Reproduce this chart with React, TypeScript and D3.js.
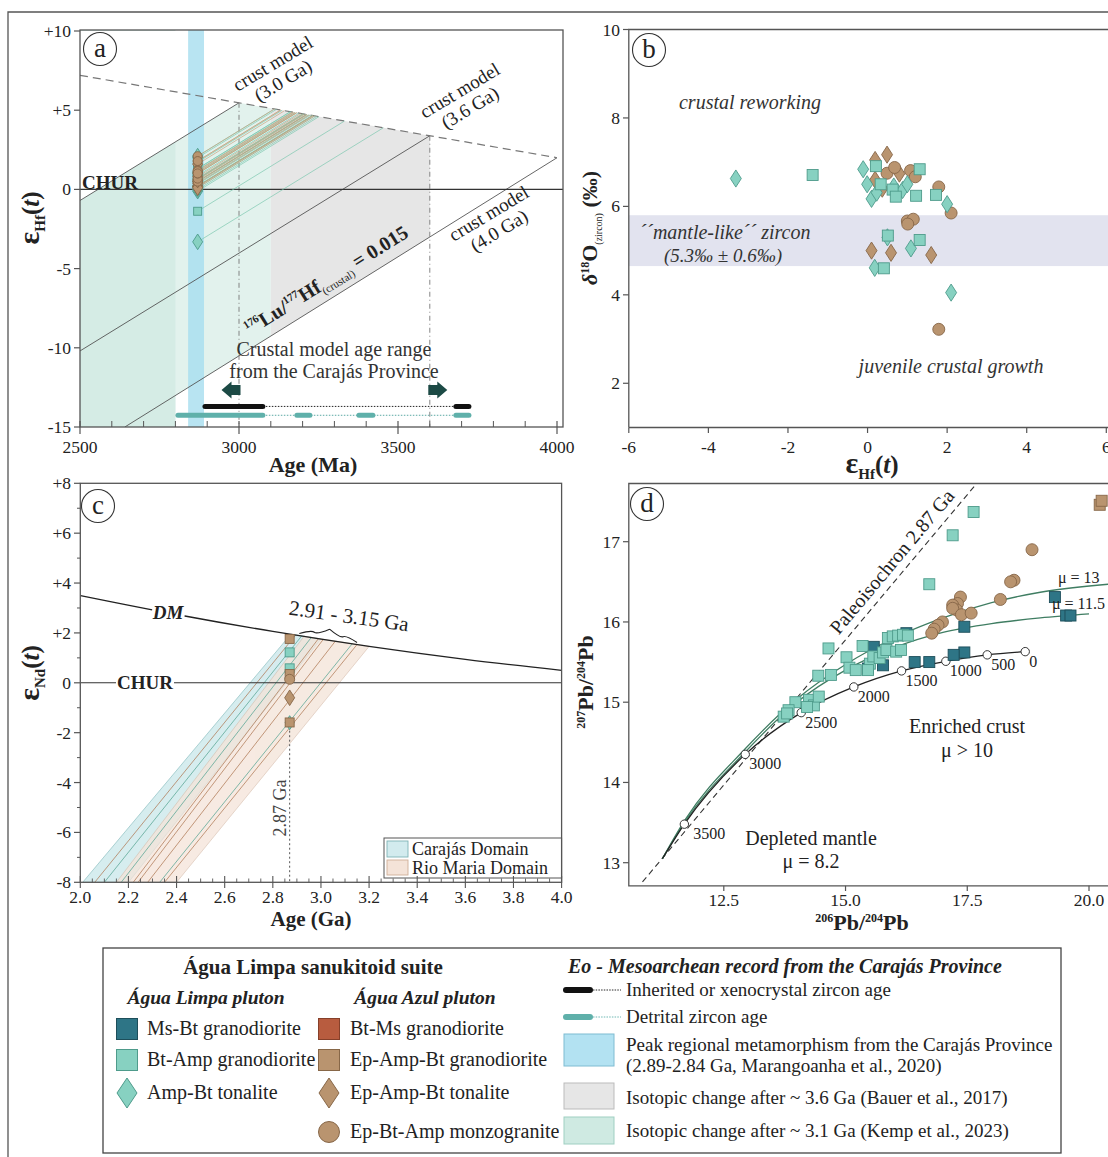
import React from 'react';
import * as d3 from 'd3';

const FONT = '"Liberation Serif", "Times New Roman", Times, serif';
const INK = '#222';
const FRAME = '#555';

// ---------------- lithologies (legend categories) ----------------
const lithoKeys = ['msBt', 'btAmp', 'ampBt', 'btMs', 'epAmpBtG', 'epAmpBtT', 'epBtAmp'];
const lithoLabels = ['Ms-Bt granodiorite', 'Bt-Amp granodiorite', 'Amp-Bt tonalite', 'Bt-Ms granodiorite', 'Ep-Amp-Bt granodiorite', 'Ep-Amp-Bt tonalite', 'Ep-Bt-Amp monzogranite'];
const lithoShapes = ['square', 'square', 'diamond', 'square', 'square', 'diamond', 'circle'];
const lithoFills = ['#2e7586', '#87d1c1', '#87d1c1', '#b85c3f', '#b9946f', '#b9946f', '#b9946f'];
const lithoStrokes = ['#1d4e5a', '#4e9b8b', '#4e9b8b', '#86402a', '#876748', '#876748', '#876748'];
const LITHO: Record<string, { label: string; shape: string; fill: string; stroke: string }> = {};
lithoKeys.forEach((k, i) => {
  LITHO[k] = { label: lithoLabels[i], shape: lithoShapes[i], fill: lithoFills[i], stroke: lithoStrokes[i] };
});

// ---------------- panel b data : [eHf(t), d18O] ----------------
const bAmpBtTonalite: [number, number][] = [[-3.31, 6.63], [-0.11, 6.84], [-0.01, 6.5], [0.1, 6.17], [0.23, 6.31], [0.66, 6.45], [0.88, 6.37], [1.0, 6.5], [0.5, 5.3], [1.09, 5.05], [0.18, 4.61], [2.0, 6.05], [2.1, 4.05]];
const bBtAmpGranodiorite: [number, number][] = [[-1.38, 6.71], [0.21, 6.91], [0.33, 6.5], [0.63, 6.38], [0.71, 6.22], [1.22, 6.24], [1.31, 6.84], [1.72, 6.26], [0.51, 5.34], [1.31, 5.24], [0.41, 4.6]];
const bEpAmpBtTonalite: [number, number][] = [[0.19, 7.05], [0.49, 7.17], [0.19, 6.6], [0.37, 6.4], [0.8, 6.74], [0.1, 5.0], [0.59, 4.95], [1.6, 4.9]];
const bEpBtAmpMonzogranite: [number, number][] = [[0.49, 6.75], [0.68, 6.88], [1.08, 6.81], [1.2, 6.67], [1.79, 6.44], [2.1, 5.85], [1.0, 5.67], [1.15, 5.71], [1.01, 5.6], [1.79, 3.22]];
const bMantleBand = [4.65, 5.8];
const bXTicks = [-6, -4, -2, 0, 2, 4, 6];
const bYTicks = [2, 4, 6, 8, 10];

// ---------------- panel a data ----------------
const aXTicks = [2500, 3000, 3500, 4000];
const aYTicks = [10, 5, 0, -5, -10, -15];
const aYTickLabels = ['+10', '+5', '0', '-5', '-10', '-15'];
const aDepletedMantle: [number, number][] = [[2500, 7.2], [4000, 2.0]];
const aCrustModelAges = [3000, 3600, 4000];
const aCrustModelLow: [number, number][] = [[2500, -0.7], [2500, -10.2], [2641, -15]];
const aSampleAge = 2870;
const aMetamorphism = [2840, 2890];
const aKempAges = [2800, 3100];
const aBauerAges = [3100, 3600];
const aInherited: [number, number][] = [[2893, 3075], [3682, 3723]];
const aDetrital: [number, number][] = [[2808, 3075], [3182, 3223], [3377, 3421], [3682, 3723]];
const aProvinceRange = [2945, 3655];

// ---------------- panel c data ----------------
const cXTicks = d3.range(0, 11).map((i) => +(2 + i * 0.2).toFixed(1));
const cYTicks = [8, 6, 4, 2, 0, -2, -4, -6, -8];
const cYTickLabels = ['+8', '+6', '+4', '+2', '0', '-2', '-4', '-6', '-8'];
const cDepletedMantle: [number, number][] = [[2.0, 3.5], [2.4, 2.74], [2.8, 2.06], [3.2, 1.46], [3.6, 0.94], [4.0, 0.5]];
const cSampleAge = 2.87;
const cEpAmpBtG = [1.76, 0.35, -1.59];
const cBtAmp = [1.22, 0.58];
const cEpBtAmp = [0.14];
const cEpAmpBtT = [-0.6];
const cAmpBt = [-1.6];
const cLineTdm = [2.895, 2.92, 2.96, 2.99, 3.01, 3.06, 3.13, 3.15];
const cLineBottom = [2.06, 2.1, 2.17, 2.22, 2.24, 2.28, 2.33, 2.35];
const cLineGroup = ['o', 't', 't', 'o', 'o', 'o', 't', 'o'];
const cCarajasBottom = [2.01, 2.2];
const cCarajasTop = [2.875, 3.0];
const cRioMariaBottom = [2.15, 2.4];
const cRioMariaTop = [2.93, 3.2];
const cBrace = [2.91, 3.15];

// ---------------- panel d data : [206Pb/204Pb, 207Pb/204Pb] ----------------
const dXTicks = [12.5, 15.0, 17.5, 20.0];
const dYTicks = [13, 14, 15, 16, 17];
const dDmAges = [3500, 3000, 2500, 2000, 1500, 1000, 500, 0];
const dDm206 = [11.69, 12.94, 14.09, 15.17, 16.15, 17.06, 17.91, 18.69];
const dDm207 = [13.48, 14.35, 14.87, 15.19, 15.39, 15.51, 15.59, 15.63];
const dCurveStart: [number, number] = [11.24, 13.05];
const dMu115: [number, number][] = [[11.24, 13.05], [11.69, 13.5], [12.94, 14.38], [14.0, 15.0], [15.0, 15.4], [16.0, 15.68], [17.0, 15.87], [18.0, 15.98], [19.0, 16.05], [20.0, 16.1]];
const dMu13: [number, number][] = [[11.24, 13.05], [11.69, 13.52], [12.94, 14.42], [14.0, 15.04], [15.0, 15.47], [16.0, 15.8], [17.0, 16.05], [18.0, 16.24], [19.0, 16.37], [20.4, 16.47]];
const dPaleoisochron: [number, number][] = [[10.83, 12.76], [17.7, 17.73]];
const dBtAmp: [number, number][] = [[17.63, 17.37], [17.2, 17.08], [16.72, 16.47], [14.65, 15.67], [14.44, 15.33], [14.7, 15.34], [15.02, 15.56], [15.08, 15.43], [15.21, 15.4], [15.35, 15.7], [15.5, 15.48], [15.57, 15.57], [15.7, 15.55], [15.77, 15.62], [15.87, 15.8], [15.97, 15.82], [16.08, 15.83], [16.18, 15.84], [16.28, 15.83], [15.84, 15.65], [16.04, 15.63], [16.14, 15.65], [15.46, 15.4], [13.97, 15.0], [13.83, 14.9], [13.73, 14.82], [13.8, 14.86], [14.25, 15.03], [14.35, 14.96], [14.45, 15.07], [14.21, 14.94]];
const dMsBt: [number, number][] = [[19.3, 16.31], [19.53, 16.08], [19.62, 16.08], [17.44, 15.94], [17.44, 15.62], [17.22, 15.59], [16.42, 15.5], [16.72, 15.5], [16.25, 15.86], [15.58, 15.69], [15.77, 15.46], [15.46, 15.42]];
const dEpBtAmp: [number, number][] = [[18.83, 16.9], [18.46, 16.52], [18.39, 16.5], [18.18, 16.28], [17.36, 16.31], [17.3, 16.23], [17.2, 16.21], [17.28, 16.15], [17.2, 16.17], [17.38, 16.09], [17.58, 16.11], [16.99, 16.0], [16.9, 15.96], [16.82, 15.91], [16.77, 15.86]];
const dEpAmpBtG: [number, number][] = [[20.22, 17.46], [20.26, 17.51]];

// ---------------- helpers ----------------
function Marker({ kind, x, y, s }: { kind: string; x: number; y: number; s: number }) {
  const st = LITHO[kind];
  const common = { fill: st.fill, stroke: st.stroke, strokeWidth: 0.9 };
  if (st.shape === 'square') return <rect x={x - s / 2} y={y - s / 2} width={s} height={s} {...common} />;
  if (st.shape === 'circle') return <circle cx={x} cy={y} r={s / 2} {...common} />;
  return <path d={`M${x},${y - s * 0.78}L${x + s * 0.5},${y}L${x},${y + s * 0.78}L${x - s * 0.5},${y}Z`} {...common} />;
}

function PanelLabel({ cx, cy, t }: { cx: number; cy: number; t: string }) {
  return (
    <g>
      <circle cx={cx} cy={cy} r={16.5} fill="#fff" stroke="#333" strokeWidth={1.1} />
      <text x={cx} y={cy + 8} textAnchor="middle" fontSize={27} fill={INK}>{t}</text>
    </g>
  );
}

function bracePath(x1: number, y1: number, x2: number, y2: number, w: number, q: number) {
  const len = Math.sqrt((x1 - x2) ** 2 + (y1 - y2) ** 2);
  const dx = (x1 - x2) / len;
  const dy = (y1 - y2) / len;
  const qx1 = x1 + q * w * dy - 0.2 * len * dx;
  const qy1 = y1 - q * w * dx - 0.2 * len * dy;
  const qx2 = x1 - 0.25 * len * dx + (1 - q) * w * dy;
  const qy2 = y1 - 0.25 * len * dy - (1 - q) * w * dx;
  const tx1 = x1 - 0.5 * len * dx + w * dy;
  const ty1 = y1 - 0.5 * len * dy - w * dx;
  const qx3 = x2 + q * w * dy + 0.2 * len * dx;
  const qy3 = y2 - q * w * dx + 0.2 * len * dy;
  const qx4 = x1 - 0.75 * len * dx + (1 - q) * w * dy;
  const qy4 = y1 - 0.75 * len * dy - (1 - q) * w * dx;
  return `M${x1},${y1}Q${qx1},${qy1} ${qx2},${qy2}T${tx1},${ty1}M${x2},${y2}Q${qx3},${qy3} ${qx4},${qy4}T${tx1},${ty1}`;
}

// ---------------- Panel a ----------------
function PanelA() {
  const x = d3.scaleLinear().domain([2500, 4000]).range([80, 557]);
  const y = d3.scaleLinear().domain([-15, 10]).range([427, 31]);
  const dm = d3.scaleLinear().domain([aDepletedMantle[0][0], aDepletedMantle[1][0]]).range([aDepletedMantle[0][1], aDepletedMantle[1][1]]);
  const line = d3.line<[number, number]>().x((d) => x(d[0])).y((d) => y(d[1]));
  const crust = aCrustModelAges.map((age, i) => [aCrustModelLow[i], [age, dm(age)]] as [number, number][]);
  const hfSlope = (dm(aCrustModelAges[0]) - aCrustModelLow[0][1]) / (aCrustModelAges[0] - aCrustModelLow[0][0]);
  const s40 = (dm(aCrustModelAges[2]) - aCrustModelLow[2][1]) / (aCrustModelAges[2] - aCrustModelLow[2][0]);
  const c40 = (t: number) => dm(aCrustModelAges[2]) + s40 * (t - aCrustModelAges[2]);
  const kempOld: [number, number][] = [
    [2500, -15], aCrustModelLow[0], [aCrustModelAges[0], dm(aCrustModelAges[0])],
    [aKempAges[1], dm(aKempAges[1])], [aKempAges[1], c40(aKempAges[1])], [aKempAges[0], c40(aKempAges[0])], [aKempAges[0], -15],
  ];
  const bauer: [number, number][] = [
    [aBauerAges[0], dm(aBauerAges[0])], [aBauerAges[1], dm(aBauerAges[1])],
    [aBauerAges[1], c40(aBauerAges[1])], [aBauerAges[0], c40(aBauerAges[0])],
  ];
  const dmSlope = (aDepletedMantle[1][1] - aDepletedMantle[0][1]) / (aDepletedMantle[1][0] - aDepletedMantle[0][0]);
  const meet = (e0: number) => (aDepletedMantle[0][1] - dmSlope * aDepletedMantle[0][0] - e0 + hfSlope * aSampleAge) / (hfSlope - dmSlope);

  const teal = [
    ...bAmpBtTonalite.map((d) => ({ kind: 'ampBt', e: d[0] })),
    ...bBtAmpGranodiorite.map((d) => ({ kind: 'btAmp', e: d[0] })),
  ];
  const orange = [
    ...bEpAmpBtTonalite.map((d) => ({ kind: 'epAmpBtT', e: d[0] })),
    ...bEpBtAmpMonzogranite.map((d) => ({ kind: 'epBtAmp', e: d[0] })),
  ];
  const sx = x(aSampleAge);
  const minors = d3.range(2600, 4000, 100).filter((v) => !aXTicks.includes(v));
  const arrow = (tx: number, ty: number, dir: number) =>
    `M${tx},${ty}L${tx - dir * 10},${ty - 8.5}L${tx - dir * 10},${ty - 5}L${tx - dir * 19},${ty - 5}L${tx - dir * 19},${ty + 5}L${tx - dir * 10},${ty + 5}L${tx - dir * 10},${ty + 8.5}Z`;
  const yInh = y(-13.7);
  const yDet = y(-14.26);

  return (
    <g>
      <defs>
        <clipPath id="clipA"><rect x={80} y={30} width={483} height={397} /></clipPath>
      </defs>
      <g clipPath="url(#clipA)">
        <path d={line(kempOld) + 'Z'} fill="#e2f2ed" />
        <rect x={80} y={30} width={x(aKempAges[0]) - 80} height={397} fill="#d5ece5" />
        <path d={line([[2500, 10], [2500, aCrustModelLow[0][1]], [aCrustModelAges[0], dm(aCrustModelAges[0])], [aCrustModelAges[0], 10]]) + 'Z'} fill="#fff" />
        <path d={line(bauer) + 'Z'} fill="#e6e6e6" />
        <rect x={x(aMetamorphism[0])} y={30} width={x(aMetamorphism[1]) - x(aMetamorphism[0])} height={397} fill="#a6ddef" opacity={0.8} />
        {crust.map((c, i) => <path key={i} d={line(c)!} fill="none" stroke="#555" strokeWidth={0.9} />)}
        <path d={line(aDepletedMantle)!} fill="none" stroke="#777" strokeWidth={1.2} strokeDasharray="8,5" />
        {[aCrustModelAges[0], aCrustModelAges[1]].map((t) => (
          <line key={t} x1={x(t)} x2={x(t)} y1={y(dm(t))} y2={427} stroke="#777" strokeWidth={0.9} strokeDasharray="5,3,1,3" />
        ))}
        <line x1={80} x2={563} y1={y(0)} y2={y(0)} stroke="#333" strokeWidth={1.1} />
        {teal.map((d, i) => (
          <path key={'tl' + i} d={line([[aSampleAge, d.e], [meet(d.e), dm(meet(d.e))]])!} stroke="#79c6ae" strokeWidth={0.8} opacity={0.85} fill="none" />
        ))}
        {orange.map((d, i) => (
          <path key={'ol' + i} d={line([[aSampleAge, d.e], [meet(d.e), dm(meet(d.e))]])!} stroke="#c6a27c" strokeWidth={0.8} opacity={0.85} fill="none" />
        ))}
        {teal.map((d, i) => <Marker key={'tp' + i} kind={d.kind} x={sx} y={y(d.e)} s={d.kind === 'btAmp' ? 8 : 10} />)}
        {orange.map((d, i) => <Marker key={'op' + i} kind={d.kind} x={sx} y={y(d.e)} s={d.kind === 'epBtAmp' ? 9 : 10} />)}
      </g>
      {/* range bars */}
      <line x1={x(aInherited[0][1])} x2={x(aInherited[aInherited.length - 1][0])} y1={yInh} y2={yInh} stroke="#222" strokeWidth={1} strokeDasharray="1.5,1.5" />
      {aInherited.map((r, i) => <line key={'ih' + i} x1={x(r[0])} x2={x(r[1])} y1={yInh} y2={yInh} stroke="#111" strokeWidth={5} strokeLinecap="round" />)}
      <line x1={x(aDetrital[0][1])} x2={x(aDetrital[aDetrital.length - 1][0])} y1={yDet} y2={yDet} stroke="#5aa8a3" strokeWidth={1} strokeDasharray="1.5,1.5" />
      {aDetrital.map((r, i) => <line key={'dt' + i} x1={x(r[0])} x2={x(r[1])} y1={yDet} y2={yDet} stroke="#5fb0aa" strokeWidth={5} strokeLinecap="round" />)}
      <path d={arrow(x(aProvinceRange[0]), y(-12.66), -1)} fill="#1c4a45" />
      <path d={arrow(x(aProvinceRange[1]), y(-12.66), 1)} fill="#1c4a45" />
      {/* texts */}
      <text x={334} y={356} textAnchor="middle" fontSize={20} fill="#333">Crustal model age range</text>
      <text x={334} y={378} textAnchor="middle" fontSize={20} fill="#333">from the Carajás Province</text>
      <text x={82} y={189} fontSize={19} fontWeight="bold" fill={INK}>CHUR</text>
      <text transform="translate(276,69) rotate(-31)" textAnchor="middle" fontSize={19} fill={INK}>
        <tspan x={0} dy={0}>crust model</tspan>
        <tspan x={0} dy={20}>(3.0 Ga)</tspan>
      </text>
      <text transform="translate(463,96) rotate(-31)" textAnchor="middle" fontSize={19} fill={INK}>
        <tspan x={0} dy={0}>crust model</tspan>
        <tspan x={0} dy={20}>(3.6 Ga)</tspan>
      </text>
      <text transform="translate(492,219) rotate(-31)" textAnchor="middle" fontSize={19} fill={INK}>
        <tspan x={0} dy={0}>crust model</tspan>
        <tspan x={0} dy={20}>(4.0 Ga)</tspan>
      </text>
      <text transform="translate(250,336) rotate(-32)" fontSize={20} fontWeight="bold" fill={INK}>
        <tspan fontSize={11} dy={-8}>176</tspan>
        <tspan dy={8}>Lu/</tspan>
        <tspan fontSize={11} dy={-8}>177</tspan>
        <tspan dy={8}>Hf</tspan>
        <tspan fontSize={11} fontWeight="normal" dy={5}>(crustal)</tspan>
        <tspan dy={-5}> = 0.015</tspan>
      </text>
      {/* frame & axes */}
      <rect x={80} y={30} width={483} height={397} fill="none" stroke={FRAME} strokeWidth={1.3} />
      {aXTicks.map((v) => (
        <g key={v}>
          <line x1={x(v)} x2={x(v)} y1={421} y2={434} stroke={FRAME} strokeWidth={1.2} />
          <text x={x(v)} y={453} textAnchor="middle" fontSize={17.5} fill={INK}>{v}</text>
        </g>
      ))}
      {minors.map((v) => <line key={v} x1={x(v)} x2={x(v)} y1={421} y2={427} stroke={FRAME} strokeWidth={1} />)}
      {aYTicks.map((v, i) => (
        <g key={v}>
          <line x1={74} x2={80} y1={y(v)} y2={y(v)} stroke={FRAME} strokeWidth={1.2} />
          <text x={71} y={y(v) + 6} textAnchor="end" fontSize={17.5} fill={INK}>{aYTickLabels[i]}</text>
        </g>
      ))}
      <text x={313} y={472} textAnchor="middle" fontSize={22} fontWeight="bold" fill={INK}>Age (Ma)</text>
      <text transform="translate(39,218) rotate(-90)" textAnchor="middle" fontSize={25} fontWeight="bold" fill={INK}>
        <tspan fontSize={30}>ε</tspan>
        <tspan fontSize={15} dy={6}>Hf</tspan>
        <tspan dy={-6}>(</tspan>
        <tspan fontStyle="italic">t</tspan>
        <tspan>)</tspan>
      </text>
      <PanelLabel cx={100} cy={49} t="a" />
    </g>
  );
}

// ---------------- Panel b ----------------
function PanelB() {
  const x = d3.scaleLinear().domain([-6, 6]).range([628.8, 1106.3]);
  const y = d3.scaleLinear().domain([1, 10]).range([427.5, 29.5]);
  const pts = (arr: [number, number][], kind: string, s: number) =>
    arr.map((d, i) => <Marker key={kind + i} kind={kind} x={x(d[0])} y={y(d[1])} s={s} />);
  return (
    <g>
      <rect x={628.8} y={y(bMantleBand[1])} width={480} height={y(bMantleBand[0]) - y(bMantleBand[1])} fill="#e2e3ef" />
      {pts(bEpAmpBtTonalite, 'epAmpBtT', 11)}
      {pts(bEpBtAmpMonzogranite, 'epBtAmp', 12)}
      {pts(bAmpBtTonalite, 'ampBt', 11)}
      {pts(bBtAmpGranodiorite, 'btAmp', 11)}
      <text x={750} y={109} textAnchor="middle" fontSize={20} fontStyle="italic" fill="#333">crustal reworking</text>
      <text x={725} y={239} textAnchor="middle" fontSize={20} fontStyle="italic" fill="#333">´´mantle-like´´ zircon</text>
      <text x={723} y={262} textAnchor="middle" fontSize={19} fontStyle="italic" fill="#333">(5.3‰ ± 0.6‰)</text>
      <text x={951} y={373} textAnchor="middle" fontSize={20} fontStyle="italic" fill="#333">juvenile crustal growth</text>
      <path d="M628.8,427.5V29.5H1108M628.8,427.5H1108" fill="none" stroke={FRAME} strokeWidth={1.3} />
      {bXTicks.map((v) => (
        <g key={v}>
          <line x1={x(v)} x2={x(v)} y1={427.5} y2={433} stroke={FRAME} strokeWidth={1.2} />
          <text x={x(v)} y={453} textAnchor="middle" fontSize={17.5} fill={INK}>{v}</text>
        </g>
      ))}
      {bYTicks.map((v) => (
        <g key={v}>
          <line x1={623} x2={628.8} y1={y(v)} y2={y(v)} stroke={FRAME} strokeWidth={1.2} />
          <text x={620} y={y(v) + 6} textAnchor="end" fontSize={17.5} fill={INK}>{v}</text>
        </g>
      ))}
      <text x={872} y={473} textAnchor="middle" fontSize={25} fontWeight="bold" fill={INK}>
        <tspan fontSize={30}>ε</tspan>
        <tspan fontSize={15} dy={6}>Hf</tspan>
        <tspan dy={-6}>(</tspan>
        <tspan fontStyle="italic">t</tspan>
        <tspan>)</tspan>
      </text>
      <text transform="translate(597,228) rotate(-90)" textAnchor="middle" fontSize={22} fontWeight="bold" fill={INK}>
        <tspan fontStyle="italic">δ</tspan>
        <tspan fontSize={12} dy={-8}>18</tspan>
        <tspan dy={8}>O</tspan>
        <tspan fontSize={10} fontWeight="normal" dy={5}>(zircon)</tspan>
        <tspan dy={-5}> (‰)</tspan>
      </text>
      <PanelLabel cx={649} cy={50} t="b" />
    </g>
  );
}

// ---------------- Panel c ----------------
function PanelC() {
  const x = d3.scaleLinear().domain([2, 4]).range([80.3, 561.6]);
  const y = d3.scaleLinear().domain([-8, 8]).range([882.3, 483.3]);
  const dm = d3.scaleLinear().domain(cDepletedMantle.map((d) => d[0])).range(cDepletedMantle.map((d) => d[1]));
  const line = d3.line<[number, number]>().x((d) => x(d[0])).y((d) => y(d[1]));
  const curve = d3.line<[number, number]>().x((d) => x(d[0])).y((d) => y(d[1])).curve(d3.curveMonotoneX);
  const band = (b: number[], t: number[]): [number, number][] => [[b[0], -8], [t[0], dm(t[0])], [t[1], dm(t[1])], [b[1], -8]];
  const xMinor = d3.range(0, 41).map((i) => 2 + i * 0.05).filter((v) => Math.abs((v - 2) / 0.2 - Math.round((v - 2) / 0.2)) > 1e-6);
  const yMinor = d3.range(-7, 8, 2);
  const sx = x(cSampleAge);
  const bx1 = x(cBrace[0]);
  const bx2 = x(cBrace[1]);
  const by1 = y(dm(cBrace[0])) - 2;
  const by2 = y(dm(cBrace[1])) - 2;
  return (
    <g>
      <defs>
        <clipPath id="clipC"><rect x={80.3} y={483.3} width={481.3} height={399} /></clipPath>
      </defs>
      <g clipPath="url(#clipC)">
        <path d={line(band(cCarajasBottom, cCarajasTop)) + 'Z'} fill="#d2ebee" stroke="#8fc2c3" strokeWidth={0.8} opacity={0.9} />
        <path d={line(band(cRioMariaBottom, cRioMariaTop)) + 'Z'} fill="#f4e3d8" stroke="#d6bba9" strokeWidth={0.8} opacity={0.75} />
        {cLineTdm.map((t, i) => (
          <path key={i} d={line([[cLineBottom[i], -8], [t, dm(t)]])!} fill="none" stroke={cLineGroup[i] === 't' ? '#5aa595' : '#b07c58'} strokeWidth={0.9} opacity={0.85} />
        ))}
        <path d={curve(cDepletedMantle)!} fill="none" stroke="#222" strokeWidth={1.4} />
        <line x1={80.3} x2={561.6} y1={y(0)} y2={y(0)} stroke="#333" strokeWidth={1.1} />
        <line x1={sx} x2={sx} y1={y(-1.6) + 8} y2={882.3} stroke="#555" strokeWidth={1} strokeDasharray="2,2.5" />
        {cBtAmp.map((e, i) => <Marker key={'ba' + i} kind="btAmp" x={sx} y={y(e)} s={9} />)}
        {cAmpBt.map((e, i) => <Marker key={'ab' + i} kind="ampBt" x={sx} y={y(e)} s={9} />)}
        {cEpAmpBtG.map((e, i) => <Marker key={'eg' + i} kind="epAmpBtG" x={sx} y={y(e)} s={9} />)}
        {cEpAmpBtT.map((e, i) => <Marker key={'et' + i} kind="epAmpBtT" x={sx} y={y(e)} s={10} />)}
        {cEpBtAmp.map((e, i) => <Marker key={'ec' + i} kind="epBtAmp" x={sx} y={y(e)} s={10} />)}
      </g>
      <path d={bracePath(bx2, by2, bx1, by1, 9, 0.6)} fill="none" stroke="#222" strokeWidth={1.1} />
      <text transform="translate(348,623) rotate(8)" textAnchor="middle" fontSize={21} fill={INK}>2.91 - 3.15 Ga</text>
      <rect x={152} y={600} width={33} height={20} fill="#fff" transform={`rotate(8,168,612)`} />
      <text x={168} y={619} textAnchor="middle" fontSize={19} fontWeight="bold" fontStyle="italic" fill={INK}>DM</text>
      <rect x={116} y={673} width={58} height={19} fill="#fff" />
      <text x={145} y={689} textAnchor="middle" fontSize={19} fontWeight="bold" fill={INK}>CHUR</text>
      <text transform={`translate(${sx - 4},808) rotate(-90)`} textAnchor="middle" fontSize={18} fill="#444">2.87 Ga</text>
      {/* domain legend */}
      <rect x={384} y={838} width={177.6} height={40} fill="#fff" stroke="#555" strokeWidth={1} />
      <rect x={387} y={841} width={21} height={16} fill="#d2ebee" stroke="#7fb3b5" strokeWidth={0.9} />
      <rect x={387} y={860} width={21} height={15} fill="#f4e3d8" stroke="#cfae98" strokeWidth={0.9} />
      <text x={412} y={855} fontSize={18} fill={INK}>Carajás Domain</text>
      <text x={412} y={874} fontSize={18} fill={INK}>Rio Maria Domain</text>
      {/* frame & axes */}
      <rect x={80.3} y={483.3} width={481.3} height={399} fill="none" stroke={FRAME} strokeWidth={1.3} />
      {cXTicks.map((v) => (
        <g key={v}>
          <line x1={x(v)} x2={x(v)} y1={876} y2={888} stroke={FRAME} strokeWidth={1.1} />
          <text x={x(v)} y={903} textAnchor="middle" fontSize={17.5} fill={INK}>{v.toFixed(1)}</text>
        </g>
      ))}
      {xMinor.map((v, i) => <line key={i} x1={x(v)} x2={x(v)} y1={878.5} y2={882.3} stroke={FRAME} strokeWidth={0.9} />)}
      {cYTicks.map((v, i) => (
        <g key={v}>
          <line x1={74} x2={80.3} y1={y(v)} y2={y(v)} stroke={FRAME} strokeWidth={1.2} />
          <text x={71} y={y(v) + 6} textAnchor="end" fontSize={17.5} fill={INK}>{cYTickLabels[i]}</text>
        </g>
      ))}
      {yMinor.map((v) => <line key={v} x1={77} x2={80.3} y1={y(v)} y2={y(v)} stroke={FRAME} strokeWidth={1} />)}
      <text x={311} y={926} textAnchor="middle" fontSize={21} fontWeight="bold" fill={INK}>Age (Ga)</text>
      <text transform="translate(39,673) rotate(-90)" textAnchor="middle" fontSize={25} fontWeight="bold" fill={INK}>
        <tspan fontSize={30}>ε</tspan>
        <tspan fontSize={15} dy={6}>Nd</tspan>
        <tspan dy={-6}>(</tspan>
        <tspan fontStyle="italic">t</tspan>
        <tspan>)</tspan>
      </text>
      <PanelLabel cx={98} cy={506} t="c" />
    </g>
  );
}

// ---------------- Panel d ----------------
function PanelD() {
  const x = d3.scaleLinear().domain([12.5, 20]).range([723.8, 1089]);
  const y = d3.scaleLinear().domain([13, 17]).range([862.7, 541.7]);
  const curve = d3.line<[number, number]>().x((d) => x(d[0])).y((d) => y(d[1])).curve(d3.curveMonotoneX);
  const line = d3.line<[number, number]>().x((d) => x(d[0])).y((d) => y(d[1]));
  const dmPts: [number, number][] = [dCurveStart, ...dDm206.map((v, i) => [v, dDm207[i]] as [number, number])];
  const pts = (arr: [number, number][], kind: string, s: number) =>
    arr.map((d, i) => <Marker key={kind + i} kind={kind} x={x(d[0])} y={y(d[1])} s={s} />);
  return (
    <g>
      <defs>
        <clipPath id="clipD"><rect x={628.8} y={483.5} width={480} height={402.3} /></clipPath>
      </defs>
      <g clipPath="url(#clipD)">
        <path d={line(dPaleoisochron)!} fill="none" stroke="#333" strokeWidth={1.1} strokeDasharray="6,4" />
        <path d={curve(dMu13)!} fill="none" stroke="#3f7d62" strokeWidth={1.3} />
        <path d={curve(dMu115)!} fill="none" stroke="#3f7d62" strokeWidth={1.3} />
        <path d={curve(dmPts)!} fill="none" stroke="#222" strokeWidth={1.3} />
        {dDmAges.map((a, i) => (
          <circle key={a} cx={x(dDm206[i])} cy={y(dDm207[i])} r={4.2} fill="#fff" stroke="#333" strokeWidth={1} />
        ))}
        {pts(dMsBt, 'msBt', 11)}
        {pts(dBtAmp, 'btAmp', 11)}
        {pts(dEpBtAmp, 'epBtAmp', 12)}
        {pts(dEpAmpBtG, 'epAmpBtG', 11)}
      </g>
      {dDmAges.map((a, i) => (
        <text key={a} x={x(dDm206[i]) + (a === 3500 ? 9 : 4)} y={y(dDm207[i]) + 15} fontSize={16} fill={INK}>{a}</text>
      ))}
      <text transform="translate(897,566) rotate(-50)" textAnchor="middle" fontSize={20} fill={INK}>Paleoisochron 2.87 Ga</text>
      <text x={967} y={733} textAnchor="middle" fontSize={20} fill={INK}>Enriched crust</text>
      <text x={967} y={757} textAnchor="middle" fontSize={20} fill={INK}>μ  &gt; 10</text>
      <text x={811} y={845} textAnchor="middle" fontSize={20} fill={INK}>Depleted mantle</text>
      <text x={811} y={868} textAnchor="middle" fontSize={20} fill={INK}>μ  = 8.2</text>
      <text x={1058} y={583} fontSize={16} fill={INK}>μ = 13</text>
      <text x={1052} y={609} fontSize={16} fill={INK}>μ = 11.5</text>
      <path d="M1108,483.5H628.8V885.8H1108" fill="none" stroke={FRAME} strokeWidth={1.3} />
      {dXTicks.map((v) => (
        <g key={v}>
          <line x1={x(v)} x2={x(v)} y1={885.8} y2={891} stroke={FRAME} strokeWidth={1.2} />
          <text x={x(v)} y={906} textAnchor="middle" fontSize={17.5} fill={INK}>{v.toFixed(1)}</text>
        </g>
      ))}
      {dYTicks.map((v) => (
        <g key={v}>
          <line x1={623} x2={628.8} y1={y(v)} y2={y(v)} stroke={FRAME} strokeWidth={1.2} />
          <text x={620} y={y(v) + 6} textAnchor="end" fontSize={17.5} fill={INK}>{v}</text>
        </g>
      ))}
      <text x={862} y={930} textAnchor="middle" fontSize={22} fontWeight="bold" fill={INK}>
        <tspan fontSize={12} dy={-8}>206</tspan>
        <tspan dy={8}>Pb/</tspan>
        <tspan fontSize={12} dy={-8}>204</tspan>
        <tspan dy={8}>Pb</tspan>
      </text>
      <text transform="translate(593,682) rotate(-90)" textAnchor="middle" fontSize={22} fontWeight="bold" fill={INK}>
        <tspan fontSize={12} dy={-8}>207</tspan>
        <tspan dy={8}>Pb/</tspan>
        <tspan fontSize={12} dy={-8}>204</tspan>
        <tspan dy={8}>Pb</tspan>
      </text>
      <PanelLabel cx={647} cy={504} t="d" />
    </g>
  );
}

// ---------------- Legend ----------------
const legendCol1 = ['msBt', 'btAmp', 'ampBt'];
const legendCol2 = ['btMs', 'epAmpBtG', 'epAmpBtT', 'epBtAmp'];
const legendRowY = [1029, 1060, 1093, 1132];
const recordLabels = ['Inherited or xenocrystal zircon age', 'Detrital zircon age'];
const recordColors = ['#111', '#5fb0aa'];
const areaLabels = [
  ['Peak regional metamorphism from the Carajás Province', '(2.89-2.84 Ga, Marangoanha et al., 2020)'],
  ['Isotopic change after ~ 3.6 Ga (Bauer et al., 2017)'],
  ['Isotopic change after ~ 3.1 Ga (Kemp et al., 2023)'],
];
const areaFills = ['#b3e2f2', '#e6e6e6', '#cfeae2'];
const areaStrokes = ['#7fbcd2', '#bbb', '#9fcfc2'];

function Legend() {
  const big = (kind: string, cx: number, cy: number) => {
    const st = LITHO[kind];
    if (st.shape === 'square') return <rect x={cx - 10.5} y={cy - 10.5} width={21} height={21} fill={st.fill} stroke={st.stroke} strokeWidth={1} />;
    if (st.shape === 'circle') return <circle cx={cx} cy={cy} r={10.5} fill={st.fill} stroke={st.stroke} strokeWidth={1} />;
    return <path d={`M${cx},${cy - 15}L${cx + 10},${cy}L${cx},${cy + 15}L${cx - 10},${cy}Z`} fill={st.fill} stroke={st.stroke} strokeWidth={1} />;
  };
  const areaY = [[1034, 1066], [1083, 1109], [1117, 1144]];
  const areaTextY = [[1051, 1072], [1104], [1137]];
  return (
    <g>
      <rect x={103} y={948} width={958} height={205} fill="#fff" stroke="#444" strokeWidth={1.3} />
      <text x={313} y={974} textAnchor="middle" fontSize={21} fontWeight="bold" fill={INK}>Água Limpa sanukitoid suite</text>
      <text x={206} y={1004} textAnchor="middle" fontSize={19.5} fontWeight="bold" fontStyle="italic" fill={INK}>Água Limpa pluton</text>
      <text x={425} y={1004} textAnchor="middle" fontSize={19.5} fontWeight="bold" fontStyle="italic" fill={INK}>Água Azul pluton</text>
      {legendCol1.map((k, i) => (
        <g key={k}>
          {big(k, 127, legendRowY[i])}
          <text x={147} y={legendRowY[i] + 6} fontSize={20} fill={INK}>{LITHO[k].label}</text>
        </g>
      ))}
      {legendCol2.map((k, i) => (
        <g key={k}>
          {big(k, 329, legendRowY[i])}
          <text x={350} y={legendRowY[i] + 6} fontSize={20} fill={INK}>{LITHO[k].label}</text>
        </g>
      ))}
      <text x={568} y={973} fontSize={20} fontWeight="bold" fontStyle="italic" fill={INK}>Eo - Mesoarchean record from the Carajás Province</text>
      {recordLabels.map((l, i) => {
        const yy = [990, 1017][i];
        return (
          <g key={l}>
            <line x1={566} x2={590} y1={yy} y2={yy} stroke={recordColors[i]} strokeWidth={6} strokeLinecap="round" />
            <line x1={593} x2={621} y1={yy} y2={yy} stroke={recordColors[i]} strokeWidth={0.9} strokeDasharray="1.5,1.2" />
            <text x={626} y={yy + 6} fontSize={19} fill={INK}>{l}</text>
          </g>
        );
      })}
      {areaLabels.map((ls, i) => (
        <g key={i}>
          <rect x={564} y={areaY[i][0]} width={50} height={areaY[i][1] - areaY[i][0]} fill={areaFills[i]} stroke={areaStrokes[i]} strokeWidth={1} />
          {ls.map((l, j) => <text key={j} x={626} y={areaTextY[i][j]} fontSize={19} fill={INK}>{l}</text>)}
        </g>
      ))}
    </g>
  );
}

export default function App() {
  return (
    <svg width={1108} height={1157} viewBox="0 0 1108 1157" style={{ position: 'absolute', left: 0, top: 0, display: 'block' }} fontFamily={FONT}>
      <rect x={0} y={0} width={1108} height={1157} fill="#fff" />
      <path d="M8,1157V12H1108" fill="none" stroke="#555" strokeWidth={1.3} />
      <PanelA />
      <PanelB />
      <PanelC />
      <PanelD />
      <Legend />
    </svg>
  );
}
